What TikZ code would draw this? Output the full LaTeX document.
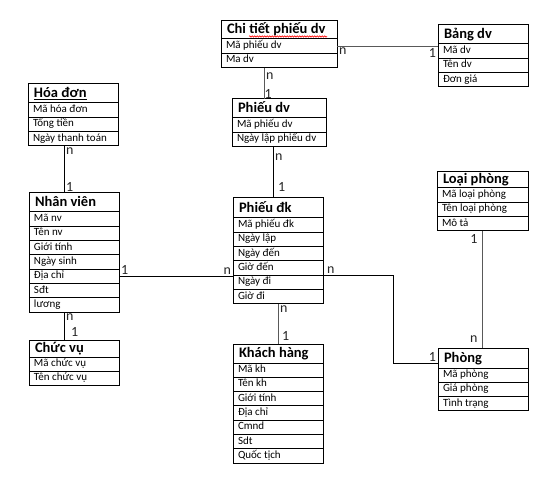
\documentclass[tikz,border=0pt]{standalone}
\usepackage{fontspec}
\setmainfont{Carlito}
\usetikzlibrary{positioning,decorations.pathmorphing}

\tikzset{
  entbox/.style={draw, line width=1pt, outer sep=0pt, inner ysep=0pt},
  enttitle/.style={entbox, inner xsep=6pt, text height=11pt, text depth=3pt,
    font=\bfseries\fontsize{14.5}{15}\selectfont},
  entrow/.style={entbox, inner xsep=5pt, minimum height=14.3, text height=7.5pt, text depth=2.5pt,
    font=\fontsize{11}{12}\selectfont},
  card/.style={inner sep=1.5pt, font=\fontsize{14}{14}\selectfont, text=black!85},
  rel/.style={line width=1pt},
}

% name, top left corner, width, title, fields; optional: title height
\newcommand{\entity}[6][19]{%
  \pgfmathsetlengthmacro\enttw{#4-12}%
  \pgfmathsetlengthmacro\entrw{#4-10}%
  \node[enttitle, anchor=north west, minimum width=#4, minimum height=#1,
        alias=#2-0] (#2) at (#3) {\makebox[\enttw][l]{#5}};
  \foreach \field [count=\i] in {#6} {
    \pgfmathtruncatemacro\j{\i-1}
    \node[entrow, minimum width=#4, below=0pt of #2-\j] (#2-\i) {\makebox[\entrw][l]{\field}};
  }%
}

\begin{document}
\begin{tikzpicture}[x=1pt, y=-1pt]
    \fill[white] (0,0) rectangle (560,484);
    \useasboundingbox (0,0) rectangle (560,484);

    % tables
    \entity[18]{ctpdv}{221,21}{116}{Chi tiết phiếu dv}{Mã phiếu dv, Ma dv}
    \entity{bangdv}{438,25}{90}{Bảng dv}{Mã dv, Tên dv, Đơn giá}
    \entity{phieudv}{232,99}{94}{Phiếu dv}{Mã phiếu dv, Ngày lập phiếu dv}
    \entity{hoadon}{28,84}{90}{\underline{Hóa đơn}}{Mã hóa đơn, Tổng tiền, Ngày thanh toán}
    \entity{nhanvien}{29,193}{90}{Nhân viên}{Mã nv, Tên nv, Giới tính, Ngày sinh, Địa chỉ, Sđt, lương}
    \entity[17]{chucvu}{29,340}{90}{Chức vụ}{Mã chức vụ, Tên chức vụ}
    \entity[20]{phieudk}{233,198}{90}{Phiếu đk}{Mã phiếu đk, Ngày lập, Ngày đến, Giờ đến, Ngày đi, Giờ đi}
    \entity{khachhang}{233,344}{90}{Khách hàng}{Mã kh, Tên kh, Giới tính, Địa chỉ, Cmnd, Sdt, Quốc tịch}
    \entity[16]{loaiphong}{437,172}{91}{Loại phòng}{Mã loại phòng, Tên loại phòng, Mô tả}
    \entity[20]{phong}{438,348}{90}{Phòng}{Mã phòng, Giá phòng, Tình trạng}

    % spell check mark under the title
    \draw[red, line width=0.6pt, decorate, decoration={snake, amplitude=0.7pt, segment length=2.5pt}]
        ([xshift=28, yshift=2.5]ctpdv.south west) -- ([xshift=106, yshift=2.5]ctpdv.south west);

    % relations
    \draw[rel, gray!70!black] (ctpdv-1.east) node[card, below right] (ctpdv-n) {n}
        -- (ctpdv-1.east -| bangdv.west) node[card, below left] (bangdv-1c) {1};
    \draw[rel, gray!70!black] ([xshift=-15]ctpdv-2.south) node[card, below right, yshift=-3] (ctpdv-n2) {n}
        -- ([xshift=-15]ctpdv-2.south |- phieudv.north) node[card, above right, xshift=-1.5, yshift=-1.5] (phieudv-1c) {1};
    \draw[rel] ([xshift=-6]phieudv-2.south) node[card, below right, yshift=-5] (phieudv-n) {n}
        -- ([xshift=-6]phieudv-2.south |- phieudk.north) node[card, above right, xshift=3, yshift=4.5] (phieudk-1c) {1};
    \draw[rel] ([xshift=-9]hoadon-3.south) node[card, below right] (hoadon-n) {n}
        -- ([xshift=-9]hoadon-3.south |- nhanvien.north) node[card, above right, yshift=-1] (nhanvien-1c) {1};
    \draw[rel] ([xshift=-10]nhanvien-7.south) node[card, below right] (nhanvien-n) {n}
        -- ([xshift=-10]nhanvien-7.south |- chucvu.north) node[card, above right, xshift=5, yshift=2] (chucvu-1c) {1};
    \draw[rel] (nhanvien-5.east) node[card, above right] (nhanvien-1d) {1}
        -- (nhanvien-5.east -| phieudk.west) node[card, above left] (phieudk-n) {n};
    \draw[rel] (phieudk-4.south east) node[card, above right, xshift=2] (phieudk-n2) {n}
        -- ++(70,0) |- ([yshift=-5]phong.west) node[card, above left] (phong-1c) {1};
    \draw[rel, gray!70!black] (phieudk-6.south) node[card, below right] (phieudk-n3) {n}
        -- (khachhang.north) node[card, above right, xshift=2, yshift=2] (khachhang-1c) {1};
    \draw[rel, gray!70!black] (loaiphong-3.south) node[card, below left, xshift=-3, yshift=-2] (loaiphong-1c) {1}
        -- (loaiphong-3.south |- phong.north) node[card, above left, xshift=-3, yshift=4] (phong-n) {n};
\end{tikzpicture}
\end{document}
